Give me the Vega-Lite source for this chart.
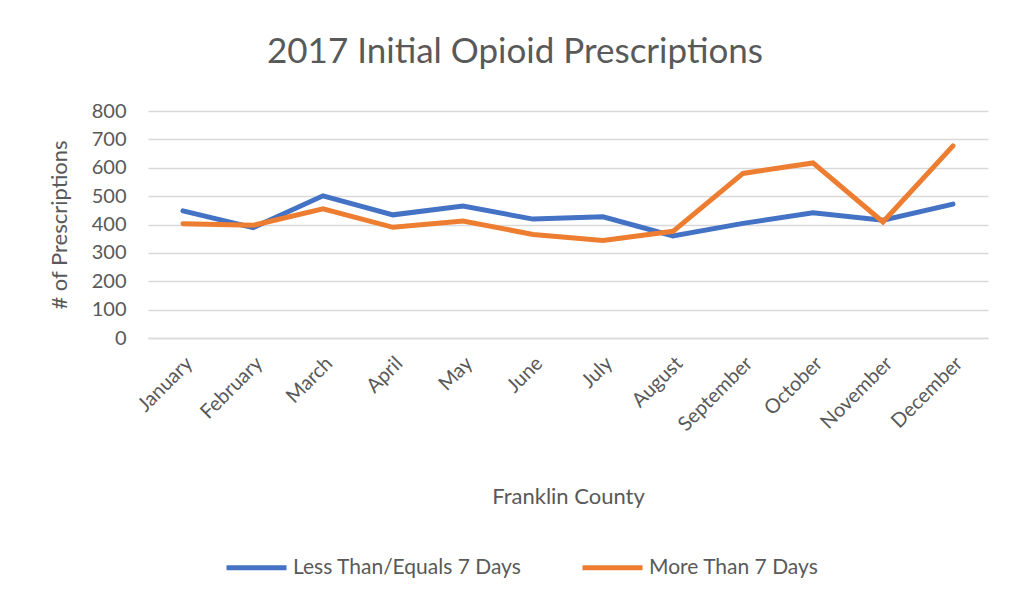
{
  "$schema": "https://vega.github.io/schema/vega-lite/v6.json",
  "autosize": "none",
  "width": 840,
  "height": 227,
  "padding": {"left": 148, "top": 111, "right": 27, "bottom": 264},
  "background": "white",
  "config": {
    "font": "Lato",
    "view": {"stroke": null}
  },
  "title": {
    "text": "2017 Initial Opioid Prescriptions",
    "fontSize": 35,
    "fontWeight": "normal",
    "color": "#595959",
    "anchor": "middle",
    "dx": -53,
    "offset": 31
  },
  "data": {
    "values": [
      {"month": "January", "series": "Less Than/Equals 7 Days", "value": 448},
      {"month": "February", "series": "Less Than/Equals 7 Days", "value": 389},
      {"month": "March", "series": "Less Than/Equals 7 Days", "value": 501},
      {"month": "April", "series": "Less Than/Equals 7 Days", "value": 434},
      {"month": "May", "series": "Less Than/Equals 7 Days", "value": 465},
      {"month": "June", "series": "Less Than/Equals 7 Days", "value": 419},
      {"month": "July", "series": "Less Than/Equals 7 Days", "value": 427},
      {"month": "August", "series": "Less Than/Equals 7 Days", "value": 360},
      {"month": "September", "series": "Less Than/Equals 7 Days", "value": 404},
      {"month": "October", "series": "Less Than/Equals 7 Days", "value": 441},
      {"month": "November", "series": "Less Than/Equals 7 Days", "value": 415},
      {"month": "December", "series": "Less Than/Equals 7 Days", "value": 472},
      {"month": "January", "series": "More Than 7 Days", "value": 403},
      {"month": "February", "series": "More Than 7 Days", "value": 397},
      {"month": "March", "series": "More Than 7 Days", "value": 455},
      {"month": "April", "series": "More Than 7 Days", "value": 390},
      {"month": "May", "series": "More Than 7 Days", "value": 412},
      {"month": "June", "series": "More Than 7 Days", "value": 365},
      {"month": "July", "series": "More Than 7 Days", "value": 344},
      {"month": "August", "series": "More Than 7 Days", "value": 376},
      {"month": "September", "series": "More Than 7 Days", "value": 580},
      {"month": "October", "series": "More Than 7 Days", "value": 617},
      {"month": "November", "series": "More Than 7 Days", "value": 409},
      {"month": "December", "series": "More Than 7 Days", "value": 677}
    ]
  },
  "mark": {"type": "line", "strokeWidth": 5, "strokeCap": "round", "strokeJoin": "miter"},
  "encoding": {
    "x": {
      "field": "month",
      "type": "ordinal",
      "sort": ["January","February","March","April","May","June","July","August","September","October","November","December"],
      "scale": {"padding": 0.5},
      "axis": {
        "title": "Franklin County",
        "titleFontSize": 22,
        "titleFontWeight": "normal",
        "titleColor": "#595959",
        "titlePadding": 52,
        "labelAngle": -45,
        "labelAlign": "right",
        "labelBaseline": "middle",
        "labelFontSize": 20,
        "labelColor": "#595959",
        "labelPadding": 22,
        "labelOffset": 6,
        "labelLimit": 0,
        "ticks": false,
        "domainColor": "#D9D9D9",
        "domainWidth": 1.5
      }
    },
    "y": {
      "field": "value",
      "type": "quantitative",
      "scale": {"domain": [0, 800]},
      "axis": {
        "title": "# of Prescriptions",
        "titleFontSize": 22,
        "titleFontWeight": "normal",
        "titleColor": "#595959",
        "titlePadding": 20,
        "values": [0,100,200,300,400,500,600,700,800],
        "labelFontSize": 20,
        "labelColor": "#595959",
        "labelPadding": 22,
        "ticks": false,
        "domain": false,
        "gridColor": "#D9D9D9",
        "gridWidth": 1.5
      }
    },
    "color": {
      "field": "series",
      "type": "nominal",
      "scale": {"domain": ["Less Than/Equals 7 Days", "More Than 7 Days"], "range": ["#4472C4", "#ED7D31"]},
      "legend": {
        "title": null,
        "orient": "none",
        "direction": "horizontal",
        "legendX": 76,
        "legendY": 424,
        "symbolType": "stroke",
        "symbolSize": 3600,
        "symbolStrokeWidth": 5,
        "labelFontSize": 21,
        "labelColor": "#595959",
        "labelLimit": 0,
        "columnPadding": 50,
        "labelOffset": 4
      }
    }
  }
}
